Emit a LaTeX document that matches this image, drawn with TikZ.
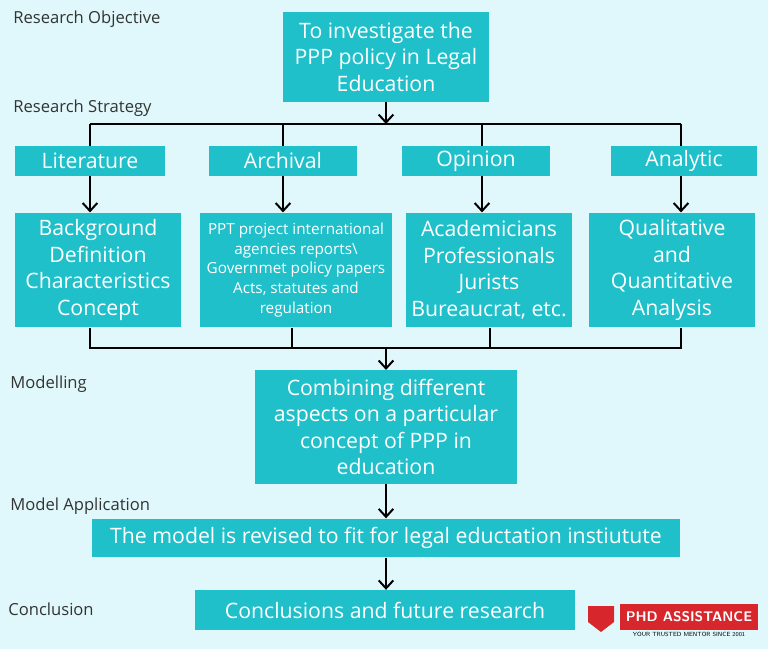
\documentclass[tikz,border=0pt]{standalone}
\usepackage{fontspec}
\setmainfont{Open Sans}
\usetikzlibrary{positioning,arrows.meta}
\definecolor{bgcyan}{HTML}{E0F8FB}
\definecolor{boxteal}{HTML}{1FC0CA}
\definecolor{phdred}{HTML}{D7262C}
\newdimen\pxu \pxu=0.75pt
\tikzset{
    box/.style={fill=boxteal, text=white, align=center, inner sep=2pt},
    lbl/.style={anchor=west, font=\fontsize{12.5}{14}\selectfont, text=black!80},
    link/.style={line width=1.5pt},
    arr/.style={line width=1.5pt, -{Straight Barb[length=6pt,width=11pt]}}
}
\begin{document}
\begin{tikzpicture}[x=0.0264583cm, y=-0.0264583cm]
    \fill[bgcyan] (0,0) rectangle (768,649);
    \useasboundingbox (0,0) rectangle (768,649);
    \fontsize{16}{20}\selectfont

% stage labels
    \node[lbl] (lobj) at (6,19) {Research Objective};
    \node[lbl] (lstr) at (6,108) {Research Strategy};
    \node[lbl] (lmod) at (3,384) {Modelling};
    \node[lbl] (lapp) at (3,506) {Model Application};
    \node[lbl] (lcon) at (1,609) {Conclusion};

% objective
    \node[box, minimum width=206\pxu, minimum height=90\pxu] (obj) at (386,57)
        {To investigate the\\PPP policy in Legal\\Education};

% strategies
    \node[box, minimum width=150\pxu, minimum height=30\pxu] (lit) at (90,161) {Literature};
    \node[box, minimum width=149\pxu, minimum height=30\pxu] (arc) at (283,161) {Archival};
    \node[box, minimum width=149\pxu, minimum height=30\pxu] (opi) at (476,161) {Opinion};
    \node[box, minimum width=147\pxu, minimum height=30\pxu] (ana) at (684,161) {Analytic};

% details
    \node[box, minimum width=167\pxu, minimum height=115\pxu] (bg) at (98,270)
        {Background\\Definition\\Characteristics\\Concept};
    \node[box, minimum width=192\pxu, minimum height=115\pxu,
          font=\fontsize{11.5}{15}\selectfont] (ppt) at (296,270)
        {PPT project international\\agencies reports\textbackslash\\Governmet policy papers\\Acts, statutes and\\regulation};
    \node[box, minimum width=166\pxu, minimum height=115\pxu] (aca) at (489,270)
        {Academicians\\Professionals\\Jurists\\Bureaucrat, etc.};
    \node[box, minimum width=166\pxu, minimum height=115\pxu] (qua) at (672,270)
        {Qualitative\\and\\Quantitative\\Analysis};

% modelling and after
    \node[box, minimum width=263\pxu, minimum height=114\pxu] (mod) at (386,427)
        {Combining different\\aspects on a particular\\concept of PPP in\\education};
    \node[box, minimum width=590\pxu, minimum height=39\pxu] (app) at (386,538)
        {The model is revised to fit for legal eductation instiutute};
    \node[box, minimum width=381\pxu, minimum height=40\pxu] (con) at (385,610)
        {Conclusions and future research};

% top connectors
    \coordinate (top) at (386,124);
    \draw[arr] (obj.south) -- (top);
    \draw[link] (90,124) -- (681,124);
    \draw[link] (90,124) -- (lit.north -| 90,0);
    \draw[link] (283,124) -- (arc.north);
    \draw[link] (482,124) -- (opi.north -| 482,0);
    \draw[link] (681,124) -- (ana.north -| 681,0);
    \draw[arr] (lit.south -| 90,0) -- (bg.north -| 90,0);
    \draw[arr] (arc.south) -- (ppt.north -| 283,0);
    \draw[arr] (opi.south -| 482,0) -- (aca.north -| 482,0);
    \draw[arr] (ana.south -| 681,0) -- (qua.north -| 681,0);

% bottom connectors
    \draw[link] (bg.south -| 90,0) -- (90,348) -- (681,348) -- (qua.south -| 681,0);
    \draw[link] (ppt.south -| 292,0) -- (292,348);
    \draw[link] (aca.south -| 490,0) -- (490,348);
    \draw[arr] (386,348) -- (mod.north);
    \draw[arr] (mod.south) -- (app.north -| mod.south);
    \draw[arr] (app.south -| mod.south) -- (con.north -| mod.south);

% logo
    \fill[phdred] (620,604) rectangle (758,630);
    \node[text=white, font=\sffamily\bfseries\fontsize{10.5}{12}\selectfont] (phd) at (689,617) {PHD ASSISTANCE};
    \node[font=\sffamily\fontsize{4.5}{5}\selectfont, below=0pt of phd.south, inner sep=1.5pt] (tag) {YOUR TRUSTED MENTOR SINCE 2001};
    \fill[phdred] (588,606) -- (614,606) -- (614,622) -- (601,632) -- (588,622) -- cycle;
\end{tikzpicture}
\end{document}
